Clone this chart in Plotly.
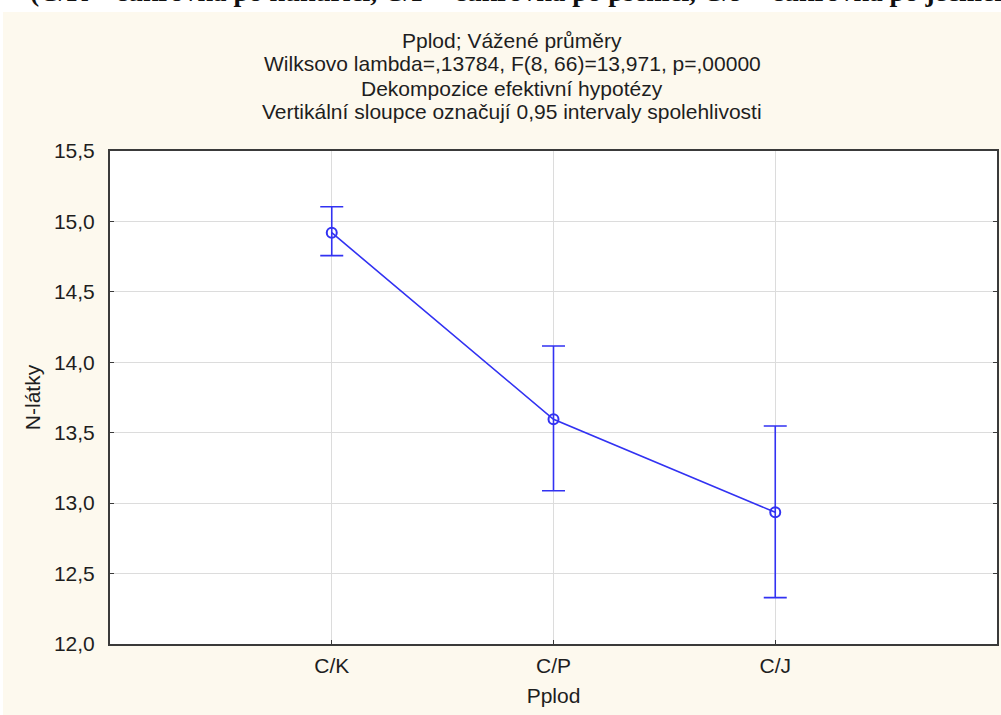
import plotly.graph_objects as go

categories = ["C/K", "C/P", "C/J"]
means = [14.92, 13.595, 12.935]
ci_upper = [15.104, 14.116, 13.548]
ci_lower = [14.757, 13.088, 12.329]
y_ticks = [12.0, 12.5, 13.0, 13.5, 14.0, 14.5, 15.0, 15.5]

W, H = 1001, 715
L, R, T, B = 110, 4, 151, 71
pw, ph = W - L - R, H - T - B

def px_x(x):
    return (x - L) / pw

def px_y(y):
    return (H - B - y) / ph

err_plus = [u - m for u, m in zip(ci_upper, means)]
err_minus = [m - l for m, l in zip(means, ci_lower)]

BLUE = "#3232f2"
CREAM = "#fdf9ee"
TXT = "#1e1e1e"
FS = 21

fig = go.Figure()
fig.add_trace(go.Scatter(
    x=categories, y=means, mode="lines+markers",
    line=dict(color=BLUE, width=1.6),
    marker=dict(symbol="circle-open", size=10, color=BLUE, line=dict(width=2, color=BLUE)),
    error_y=dict(type="data", symmetric=False, array=err_plus, arrayminus=err_minus,
                 color=BLUE, thickness=1.6, width=11.5),
    showlegend=False,
))

font_main = "Liberation Sans, Arial, sans-serif"

fig.update_layout(
    width=W, height=H,
    margin=dict(l=L, r=R, t=T, b=B, autoexpand=False),
    paper_bgcolor=CREAM, plot_bgcolor="white",
    separators=", ",
    font=dict(family=font_main, size=FS, color=TXT),
    xaxis=dict(
        type="category", range=[-1, 3], automargin=False,
        showgrid=True, gridcolor="#dcdcdc", gridwidth=1,
        showline=True, linecolor="#3a3a3a", linewidth=2, mirror=True,
        ticks="inside", ticklen=4, tickcolor="#3a3a3a",
        tickfont=dict(size=FS, color=TXT),
        ticklabelstandoff=2,
        title=dict(text="Pplod", font=dict(size=FS, color=TXT), standoff=12),
        zeroline=False,
    ),
    yaxis=dict(
        range=[12.0, 15.5], tickvals=y_ticks, tickformat=".1f", automargin=False,
        showgrid=True, gridcolor="#dcdcdc", gridwidth=1,
        showline=True, linecolor="#3a3a3a", linewidth=2, mirror="ticks",
        ticks="inside", ticklen=4, tickcolor="#3a3a3a",
        tickfont=dict(size=FS, color=TXT),
        ticklabelstandoff=9,
        title=dict(text="N-látky", font=dict(size=FS, color=TXT), standoff=8),
        zeroline=False,
    ),
)

title_lines = [
    "Pplod; Vážené průměry",
    "Wilksovo lambda=,13784, F(8, 66)=13,971, p=,00000",
    "Dekompozice efektivní hypotézy",
    "Vertikální sloupce označují 0,95 intervaly spolehlivosti",
]
title_y = [40, 64, 88, 112]
for txt, yy in zip(title_lines, title_y):
    fig.add_annotation(
        text=txt, xref="paper", yref="paper", x=px_x(512), y=px_y(yy),
        xanchor="center", yanchor="middle", showarrow=False,
        font=dict(family=font_main, size=FS, color=TXT),
    )

# white page strip above and left of the cream chart image
fig.add_shape(type="rect", xref="paper", yref="paper",
              x0=px_x(-5), x1=px_x(W + 5), y0=px_y(12), y1=px_y(-5),
              fillcolor="white", line=dict(width=0), layer="below")
fig.add_shape(type="rect", xref="paper", yref="paper",
              x0=px_x(-5), x1=px_x(3), y0=px_y(H + 5), y1=px_y(-5),
              fillcolor="white", line=dict(width=0), layer="below")

# clipped caption of the document above the chart
fig.add_annotation(
    text="<b>(C/K – cukrovka po kukuřici, C/P – cukrovka po pšenici, C/J – cukrovka po ječmeni)</b>",
    xref="paper", yref="paper", x=px_x(28), y=px_y(6),
    xanchor="left", yanchor="bottom", yshift=-3, showarrow=False,
    font=dict(family="Liberation Serif, Times New Roman, serif", size=27.5, color="#111111"),
)

fig.write_html("out.html", config={"displayModeBar": False},
               post_script="document.body.style.margin='0';")
